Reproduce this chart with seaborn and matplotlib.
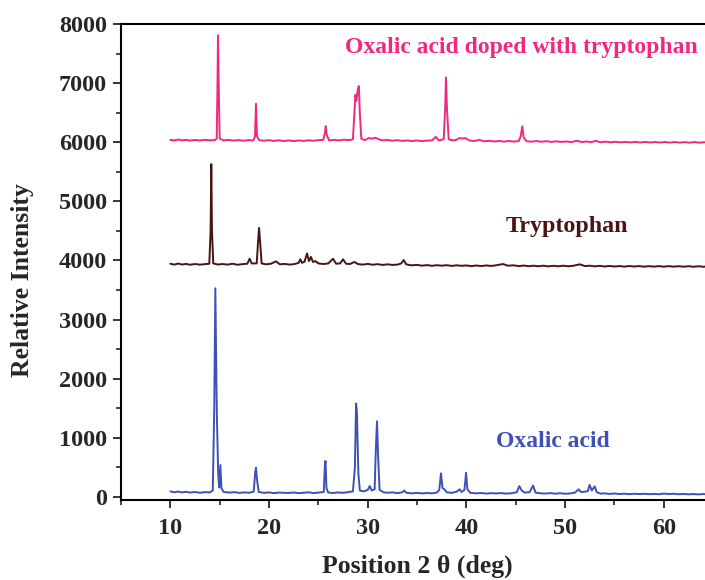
import numpy as np
import pandas as pd
import matplotlib
matplotlib.use('Agg')
import matplotlib.pyplot as plt
import seaborn as sns
from matplotlib.ticker import MultipleLocator

# Oxalic acid pattern (2theta, counts)
oxalic_2theta = [10.0, 10.4, 10.8, 11.2, 11.6, 12.0, 12.5, 13.0, 13.5, 14.0, 14.3, 14.45, 14.56, 14.68, 14.73,
                 14.85, 14.95, 15.07, 15.18, 15.4, 16.0, 16.5, 17.0, 17.5, 18.0, 18.45, 18.6, 18.68, 18.78, 18.95,
                 19.5, 20.0, 20.5, 21.0, 22.0, 22.5, 23.0, 23.5, 24.0, 24.5, 25.0, 25.55, 25.65, 25.72, 25.82,
                 26.0, 26.5, 27.0, 27.5, 28.0, 28.5, 28.7, 28.82, 28.9, 29.05, 29.2, 29.6, 30.0, 30.2, 30.4,
                 30.7, 30.82, 30.94, 31.05, 31.2, 31.6, 32.0, 32.5, 33.0, 33.5, 33.7, 33.9, 34.5, 35.0, 35.5,
                 36.0, 36.5, 37.0, 37.25, 37.42, 37.58, 37.8, 38.0, 38.5, 39.0, 39.3, 39.5, 39.8, 39.96, 40.1,
                 40.4, 41.0, 41.5, 42.0, 42.5, 43.0, 43.5, 44.0, 44.5, 45.1, 45.36, 45.6, 45.9, 46.4, 46.75,
                 47.0, 47.5, 48.0, 48.5, 49.0, 49.5, 50.0, 50.5, 51.0, 51.37, 51.6, 52.0, 52.3, 52.48, 52.7,
                 52.99, 53.2, 53.6, 54.0, 54.5, 55.0, 55.5, 56.0, 56.5, 57.0, 57.5, 58.0, 58.5, 59.0, 59.5,
                 60.0, 60.5, 61.0, 61.5, 62.0, 62.5, 63.0, 63.5, 64.0, 64.5, 65.0]
oxalic_counts = [95, 80, 92, 78, 88, 75, 85, 72, 82, 78, 110, 1500, 3530, 1800, 1270,
                 400, 160, 540, 150, 85, 75, 82, 70, 78, 72, 90, 420, 495, 300, 85,
                 70, 78, 65, 75, 68, 76, 66, 72, 80, 66, 74, 85, 500, 610, 150,
                 75, 68, 78, 70, 82, 95, 500, 1580, 1450, 400, 110, 95, 120, 185, 110,
                 130, 800, 1280, 700, 120, 80, 72, 78, 66, 80, 110, 72, 62, 70, 60,
                 68, 62, 75, 120, 400, 150, 125, 80, 70, 90, 130, 85, 120, 410, 130,
                 70, 62, 68, 58, 65, 60, 66, 58, 62, 80, 185, 110, 75, 80, 195,
                 75, 62, 58, 66, 56, 64, 55, 60, 75, 130, 85, 90, 100, 205, 110,
                 180, 80, 58, 62, 52, 60, 50, 56, 48, 55, 50, 54, 48, 52, 46,
                 58, 50, 55, 46, 52, 45, 50, 44, 50, 45, 48]

# Tryptophan pattern
trp_2theta = [10.0, 10.4, 10.8, 11.2, 11.6, 12.0, 12.5, 13.0, 13.5, 13.95, 14.08, 14.15, 14.22, 14.35, 14.8,
              15.3, 15.8, 16.3, 16.8, 17.3, 17.8, 18.03, 18.25, 18.75, 18.9, 18.99, 19.08, 19.25, 19.7, 20.2,
              20.7, 21.1, 21.6, 22.1, 22.6, 23.0, 23.17, 23.35, 23.6, 23.85, 24.05, 24.25, 24.45, 24.7, 25.0,
              25.5, 26.0, 26.48, 26.8, 27.2, 27.5, 27.8, 28.2, 28.65, 29.0, 29.5, 30.0, 30.5, 31.0, 31.5,
              32.0, 32.5, 33.0, 33.4, 33.64, 33.9, 34.4, 35.0, 35.5, 36.0, 36.5, 37.0, 37.5, 38.0, 38.5,
              39.0, 39.5, 40.0, 40.5, 41.0, 41.5, 42.0, 42.5, 43.0, 43.7, 44.2, 44.8, 45.3, 45.8, 46.3,
              46.8, 47.3, 47.8, 48.3, 48.8, 49.3, 49.8, 50.3, 50.8, 51.5, 52.0, 52.5, 53.0, 53.5, 54.0,
              54.5, 55.0, 55.5, 56.0, 56.5, 57.0, 57.5, 58.0, 58.5, 59.0, 59.5, 60.0, 60.5, 61.0, 61.5,
              62.0, 62.5, 63.0, 63.5, 64.0, 64.5, 65.0]
trp_counts = [3945, 3930, 3948, 3932, 3942, 3928, 3940, 3930, 3938, 3945, 4500, 5630, 4500, 3950, 3932,
              3940, 3930, 3945, 3928, 3938, 3945, 4030, 3950, 3950, 4350, 4550, 4350, 3950, 3935, 3945,
              3985, 3935, 3942, 3930, 3940, 3960, 4020, 3960, 3980, 4120, 3990, 4060, 3975, 3990, 3950,
              3940, 3950, 4030, 3945, 3950, 4020, 3945, 3940, 3975, 3940, 3930, 3942, 3928, 3938, 3925,
              3935, 3925, 3930, 3950, 4008, 3935, 3918, 3925, 3912, 3922, 3910, 3920, 3912, 3920, 3908,
              3918, 3910, 3916, 3905, 3915, 3906, 3916, 3908, 3918, 3940, 3912, 3918, 3905, 3914, 3903,
              3912, 3902, 3912, 3900, 3910, 3902, 3912, 3902, 3910, 3935, 3905, 3912, 3900, 3910, 3898,
              3908, 3898, 3906, 3896, 3906, 3898, 3905, 3895, 3904, 3896, 3905, 3895, 3904, 3896, 3903,
              3895, 3903, 3894, 3902, 3894, 3900, 3895]

# Oxalic acid doped with tryptophan
doped_2theta = [10.0, 10.4, 10.8, 11.2, 11.6, 12.0, 12.5, 13.0, 13.5, 14.0, 14.5, 14.7, 14.78, 14.83, 14.9,
                15.0, 15.4, 15.9, 16.4, 16.9, 17.4, 17.9, 18.4, 18.58, 18.68, 18.78, 19.0, 19.5, 20.0, 20.5,
                21.0, 21.5, 22.0, 22.5, 23.0, 23.5, 24.0, 24.5, 25.0, 25.5, 25.65, 25.75, 25.85, 26.1, 26.6,
                27.1, 27.6, 28.1, 28.5, 28.65, 28.75, 28.85, 29.0, 29.1, 29.2, 29.35, 29.7, 30.1, 30.4, 30.8,
                31.1, 31.5, 32.0, 32.5, 33.0, 33.5, 34.0, 34.5, 35.0, 35.5, 36.0, 36.5, 36.9, 37.2, 37.7,
                37.85, 37.93, 38.02, 38.2, 38.6, 39.0, 39.3, 39.6, 39.9, 40.3, 40.8, 41.3, 41.8, 42.3, 42.8,
                43.3, 43.8, 44.3, 44.8, 45.3, 45.5, 45.66, 45.8, 46.1, 46.6, 47.1, 47.6, 48.1, 48.6, 49.1,
                49.6, 50.1, 50.6, 51.2, 51.7, 52.2, 52.6, 53.1, 53.6, 54.1, 54.6, 55.1, 55.6, 56.1, 56.6,
                57.1, 57.6, 58.1, 58.6, 59.1, 59.6, 60.1, 60.6, 61.1, 61.6, 62.1, 62.6, 63.1, 63.6, 64.1,
                64.6, 65.0]
doped_counts = [6040, 6030, 6045, 6032, 6040, 6028, 6038, 6030, 6040, 6032, 6036, 6060, 7000, 7810, 7000,
                6060, 6030, 6040, 6028, 6036, 6025, 6035, 6030, 6100, 6650, 6100, 6035, 6025, 6035, 6022,
                6032, 6020, 6030, 6020, 6030, 6022, 6032, 6025, 6035, 6040, 6150, 6270, 6120, 6030, 6040,
                6030, 6042, 6035, 6050, 6500, 6800, 6700, 6900, 6950, 6500, 6060, 6035, 6070, 6060, 6075,
                6050, 6030, 6038, 6025, 6035, 6022, 6030, 6020, 6030, 6018, 6028, 6030, 6090, 6030, 6050,
                6600, 7095, 6600, 6050, 6030, 6040, 6070, 6062, 6070, 6030, 6020, 6040, 6015, 6025, 6012,
                6022, 6010, 6020, 6010, 6020, 6100, 6270, 6080, 6015, 6010, 6020, 6008, 6018, 6005, 6015,
                6005, 6012, 6003, 6025, 6002, 6012, 6000, 6022, 6000, 6010, 5998, 6008, 5998, 6006, 5996,
                6006, 5995, 6005, 5995, 6004, 5994, 6004, 5993, 6003, 5993, 6002, 5992, 6002, 5992, 6000,
                5992, 5995]

series_names = ['Oxalic acid', 'Tryptophan', 'Oxalic acid doped with tryptophan']
series_colors = ['#3f51b5', '#4a1414', '#f0287f']

sns.set_style('ticks')
plt.rcParams['font.family'] = ['Liberation Serif', 'DejaVu Serif']
plt.rcParams['font.weight'] = 'bold'

fig = plt.figure(figsize=(7.05, 5.8), dpi=100)
ax = fig.add_axes([0.1716, 0.138, 0.840, 0.8207])

data = [(oxalic_2theta, oxalic_counts), (trp_2theta, trp_counts), (doped_2theta, doped_counts)]
for (xs, ys), name, col in zip(data, series_names, series_colors):
    df = pd.DataFrame({'x': xs, 'y': ys})
    sns.lineplot(data=df, x='x', y='y', sort=False, estimator=None, color=col, lw=1.4, ax=ax)

ax.set_xlim(5, 65)
ax.set_ylim(-50, 8000)
ax.xaxis.set_major_locator(MultipleLocator(10))
ax.xaxis.set_minor_locator(MultipleLocator(5))
ax.yaxis.set_major_locator(MultipleLocator(1000))
ax.yaxis.set_minor_locator(MultipleLocator(500))
ax.tick_params(which='major', direction='out', length=6, width=1.3, labelsize=17.5, pad=4)
ax.tick_params(axis='x', which='major', pad=7)
ax.tick_params(which='minor', direction='out', length=3.5, width=1.2)
for lab in ax.get_xticklabels() + ax.get_yticklabels():
    lab.set_fontweight('bold')
for sp in ax.spines.values():
    sp.set_linewidth(1.5)
    sp.set_color('black')

ax.set_xlabel('Position 2 \u03b8 (deg)', fontsize=18.5, fontweight='bold', labelpad=11)
ax.set_ylabel('Relative Intensity', fontsize=18.5, fontweight='bold')
ax.yaxis.set_label_coords(-0.147, 0.462)

ax.text(45.56, 7610, series_names[2], color=series_colors[2], fontsize=17, fontweight='bold',
        ha='center', va='center')
ax.text(50.17, 4583, series_names[1], color=series_colors[1], fontsize=17.3, fontweight='bold',
        ha='center', va='center')
ax.text(48.75, 947, series_names[0], color=series_colors[0], fontsize=17, fontweight='bold',
        ha='center', va='center')

fig.savefig('out.png', dpi=100)
